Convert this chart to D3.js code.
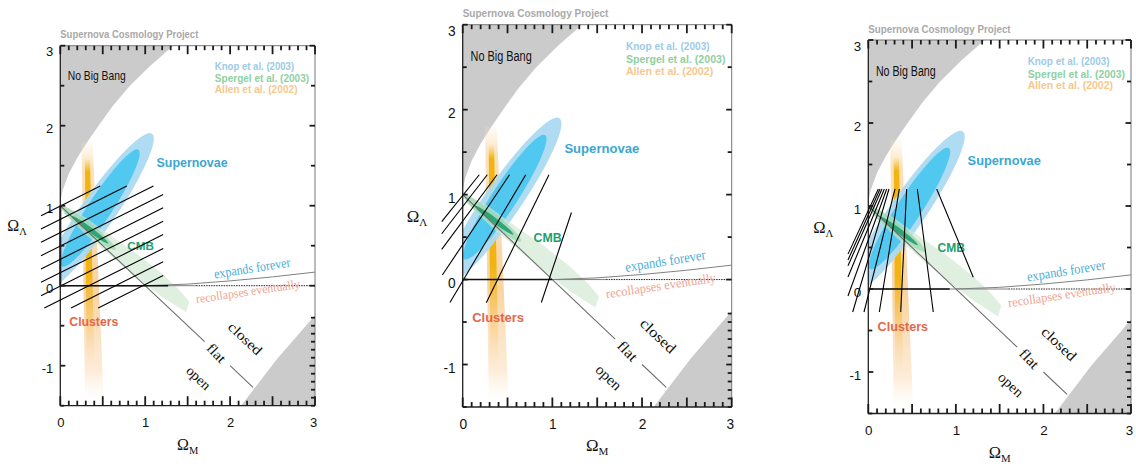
<!DOCTYPE html>
<html>
<head>
<meta charset="utf-8">
<script src="https://d3js.org/d3.v7.min.js"></script>
<style>
  body { margin: 0; background: #fff; }
  svg { display: block; }
  text { font-family: "Liberation Sans", Arial, sans-serif; }
  text.serif { font-family: "Liberation Serif", "Times New Roman", serif; }
</style>
</head>
<body>
<div id="chart"></div>
<script>
// ---- data (Omega_M, Omega_Lambda) ----
const xTicks = [0, 1, 2, 3];
const yTicks = [-1, 0, 1, 2, 3];

// no big bang boundary (upper left grey region)
const noBigBang = [[0, 1.05], [0.03, 1.2], [0.1, 1.4], [0.2, 1.6], [0.32, 1.8], [0.45, 2.0],
                   [0.62, 2.25], [0.82, 2.5], [1.06, 2.75], [1.33, 3.0]];
// lower right grey corner
const cornerRegion = [[2.13, -1.5], [2.55, -0.92], [3, -0.37], [3, -1.5]];
// expands forever / recollapses boundary
const expandLine = [[1, 0], [1.5, 0.02], [2, 0.06], [2.5, 0.11], [3, 0.17]];
const flatLineA = [[0, 1], [1.70, -0.70]];
const flatLineB = [[2.0, -1.0], [2.27, -1.27]];

// supernovae confidence ellipses: centre, tip of major axis, minor/major ratio
const snOuter = [[0.44, 0.92], [1.08, 1.90], 0.18];
const snInner = [[0.47, 0.97], [0.92, 1.70], 0.17];

// CMB band and contours
const cmbBand = [[0.05, 1.0], [0.3, 0.85], [0.6, 0.62], [0.9, 0.4], [1.2, 0.15], [1.4, -0.05], [1.52, -0.2],
                 [1.48, -0.33], [1.2, -0.14], [0.9, 0.1], [0.6, 0.37], [0.3, 0.64], [0.05, 0.9]];
const cmbMid = [[0.33, 0.72], [0.65, 0.45], 0.15];
const cmbCore = [[0.35, 0.70], [0.565, 0.53], 0.11];

// clusters band
const clustersOuter = [[0.25, 1.8], [0.38, 1.8], [0.51, -1.38], [0.29, -1.38]];
const clustersCore = [[0.29, 1.58], [0.35, 1.58], [0.40, -1.0], [0.31, -1.0]];

// hatching of each panel: [x1, y1, x2, y2]
const hatchA = [
  [-0.227, 0.875, 0.471, 1.246], [-0.227, 0.709, 0.783, 1.246], [-0.227, 0.543, 1.097, 1.246],
  [-0.227, 0.375, 1.212, 1.140], [-0.227, 0.209, 1.212, 0.974], [-0.227, 0.043, 1.212, 0.806],
  [-0.227, -0.125, 1.212, 0.640], [-0.188, -0.279, 1.212, 0.465], [0.126, -0.279, 1.212, 0.299],
  [0.447, -0.279, 1.212, 0.128]
];
const hatchB = [
  [0.185, 1.234, -0.234, 0.683], [0.274, 1.234, -0.234, 0.539], [0.383, 1.234, -0.234, 0.355],
  [0.522, 1.234, -0.227, 0.054], [0.703, 1.234, -0.142, -0.27], [0.962, 1.234, 0.263, -0.274],
  [1.213, 0.79, 0.877, -0.27]
];
const hatchC = [
  [0.114, 1.205, -0.232, 0.42], [0.134, 1.205, -0.232, 0.35], [0.156, 1.205, -0.232, 0.28],
  [0.183, 1.205, -0.232, 0.145], [0.21, 1.205, -0.232, -0.085], [0.236, 1.205, -0.178, -0.277],
  [0.305, 1.205, -0.049, -0.277], [0.354, 1.205, 0.126, -0.277], [0.438, 1.205, 0.37, -0.277],
  [0.56, 1.205, 0.742, -0.277], [0.781, 1.205, 1.199, 0.141]
];
const boxEnds = [1.27, 1.0, 0.93];

const legendNames = ["Knop et al. (2003)", "Spergel et al.  (2003)", "Allen et al.  (2002)"];
const legendColors = ["#9ccbe8", "#8fd0a2", "#f6c88e"];

// ---- layout ----
const W = 1136, H = 468;
const panels = [
  {left: 60.3, right: 315, top: 45.7, bottom: 405.7, hatch: hatchA, axLeft: 53},
  {left: 462.7, right: 731.7, top: 24.7, bottom: 407, hatch: hatchB, axLeft: 56},
  {left: 868.3, right: 1131, top: 40, bottom: 413.5, hatch: hatchC, axLeft: 55}
];

const svg = d3.select("#chart").append("svg").attr("width", W).attr("height", H);
const defs = svg.append("defs");

const gOuter = defs.append("linearGradient").attr("id", "clOuter")
  .attr("x1", 0).attr("y1", 0).attr("x2", 0).attr("y2", 1);
[[0, "#fde6c6", 0.15], [0.1, "#f9d49c", 0.7], [0.6, "#f8c98c", 0.8], [0.9, "#fad4a8", 0.45], [1, "#fde2c4", 0.05]]
  .forEach(s => gOuter.append("stop").attr("offset", s[0]).attr("stop-color", s[1]).attr("stop-opacity", s[2]));
const gCore = defs.append("linearGradient").attr("id", "clCore")
  .attr("x1", 0).attr("y1", 0).attr("x2", 0).attr("y2", 1);
[[0, "#f4c23a", 0.1], [0.06, "#f0b000", 0.9], [0.55, "#f0b000", 0.9], [0.85, "#f5c25a", 0.3], [1, "#f8d090", 0]]
  .forEach(s => gCore.append("stop").attr("offset", s[0]).attr("stop-color", s[1]).attr("stop-opacity", s[2]));

function ellipse(g, x, y, e, fill, op) {
  const cx = x(e[0][0]), cy = y(e[0][1]), tx = x(e[1][0]), ty = y(e[1][1]);
  const a = Math.hypot(tx - cx, ty - cy);
  const ang = Math.atan2(ty - cy, tx - cx) * 180 / Math.PI;
  g.append("ellipse")
    .attr("cx", cx).attr("cy", cy).attr("rx", a).attr("ry", a * e[2])
    .attr("transform", `rotate(${ang},${cx},${cy})`)
    .attr("fill", fill).attr("fill-opacity", op);
}

panels.forEach((p, i) => {
  const k = (p.right - p.left) / 254.7;
  const x = d3.scaleLinear().domain([0, 3]).range([p.left, p.right]);
  const y = d3.scaleLinear().domain([-1.5, 3]).range([p.bottom, p.top]);
  const line = d3.line().x(d => x(d[0])).y(d => y(d[1]));
  const g = svg.append("g");

  defs.append("clipPath").attr("id", "clip" + i)
    .append("rect").attr("x", p.left).attr("y", p.top)
    .attr("width", p.right - p.left).attr("height", p.bottom - p.top);

  const plot = g.append("g").attr("clip-path", `url(#clip${i})`);

  // grey forbidden regions
  plot.append("path").attr("d", line([[0, 3], ...noBigBang, [0, 3]])).attr("fill", "#cbcbcb");
  plot.append("path").attr("d", line(cornerRegion) + "Z").attr("fill", "#cbcbcb");

  // clusters
  plot.append("path").attr("d", line(clustersOuter) + "Z").attr("fill", "url(#clOuter)");
  plot.append("path").attr("d", line(clustersCore) + "Z").attr("fill", "url(#clCore)");

  // supernovae
  ellipse(plot, x, y, snOuter, "#acdaf2", 0.95);
  ellipse(plot, x, y, snInner, "#4cc6ee", 0.95);

  // CMB
  plot.append("path").attr("d", line(cmbBand) + "Z").attr("fill", "#cfe8cf").attr("fill-opacity", 0.65);
  ellipse(plot, x, y, cmbMid, "#9ad6b0", 0.7);
  ellipse(plot, x, y, cmbCore, "#22a06e", 0.9);

  // boundary lines
  plot.append("line").attr("x1", x(0)).attr("x2", x(1.6)).attr("y1", y(0)).attr("y2", y(0))
    .attr("stroke", "#808080").attr("stroke-width", 1);
  plot.append("line").attr("x1", x(1.6)).attr("x2", x(3)).attr("y1", y(0)).attr("y2", y(0))
    .attr("stroke", "#222").attr("stroke-width", 1).attr("stroke-dasharray", "1.5,1");
  plot.append("path").attr("d", line(expandLine)).attr("fill", "none").attr("stroke", "#808080").attr("stroke-width", 1);
  plot.append("path").attr("d", line(flatLineA)).attr("fill", "none").attr("stroke", "#6e6e6e").attr("stroke-width", 1.1);
  plot.append("path").attr("d", line(flatLineB)).attr("fill", "none").attr("stroke", "#6e6e6e").attr("stroke-width", 1.1);

  // box bottom
  g.append("line").attr("x1", x(0)).attr("x2", x(boxEnds[i])).attr("y1", y(0)).attr("y2", y(0))
    .attr("stroke", "#111").attr("stroke-width", 1.6);
  if (i === 0) {
    g.append("line").attr("x1", x(0)).attr("x2", x(0)).attr("y1", y(0)).attr("y2", y(1))
      .attr("stroke", "#111").attr("stroke-width", 2);
  }

  // frame
  g.append("line").attr("x1", p.left).attr("x2", p.right).attr("y1", p.top).attr("y2", p.top).attr("stroke", "#777");
  g.append("line").attr("x1", p.right).attr("x2", p.right).attr("y1", p.top).attr("y2", p.bottom).attr("stroke", "#777");
  g.append("line").attr("x1", p.left).attr("x2", p.left).attr("y1", p.top).attr("y2", p.bottom).attr("stroke", "#222").attr("stroke-width", 1.3);
  g.append("line").attr("x1", p.left).attr("x2", p.right).attr("y1", p.bottom).attr("y2", p.bottom).attr("stroke", "#222").attr("stroke-width", 1.3);

  // tick labels through d3 axes (tick lines drawn separately below)
  const fmt = d => String(d);
  const bx = g.append("g").attr("transform", `translate(0,${p.bottom})`)
    .call(d3.axisBottom(x).tickValues(xTicks).tickFormat(fmt).tickSize(0).tickPadding(12));
  bx.select(".domain").remove();
  bx.selectAll("text").attr("font-size", 13 * k).attr("font-family", "Liberation Sans, Arial, sans-serif").attr("fill", "#111")
    .attr("dx", d => d === 3 ? -2 : 0);
  const ly = g.append("g").attr("transform", `translate(${p.left},0)`)
    .call(d3.axisLeft(y).tickValues(yTicks).tickFormat(fmt).tickSize(0).tickPadding(7));
  ly.select(".domain").remove();
  ly.selectAll("text").attr("font-size", 13 * k).attr("font-family", "Liberation Sans, Arial, sans-serif")
    .attr("fill", "#111").attr("dy", d => d === 3 ? "0.75em" : "0.55em");

  // labels
  const txt = (s, dx, dy, opts) => {
    const t = g.append("text").attr("x", x(dx)).attr("y", y(dy)).text(s)
      .attr("font-size", opts.size * k).attr("fill", opts.color || "#111");
    if (opts.bold) t.attr("font-weight", "bold");
    if (opts.serif) t.attr("class", "serif");
    if (opts.len) t.attr("textLength", opts.len * k).attr("lengthAdjust", "spacingAndGlyphs");
    if (opts.anchor) t.attr("text-anchor", opts.anchor);
    if (opts.rot !== undefined) t.attr("transform", `rotate(${opts.rot},${x(dx)},${y(dy)})`);
    if (opts.dyEm) t.attr("dy", opts.dyEm);
    return t;
  };

  g.append("text").attr("x", p.left).attr("y", p.top - 7.5)
    .text("Supernova Cosmology Project").attr("font-size", 10.5 * k).attr("font-weight", "bold")
    .attr("fill", "#a9a9a9").attr("textLength", 138 * k).attr("lengthAdjust", "spacingAndGlyphs");

  txt("No Big Bang", 0.087, 2.57, {size: 13.5, len: 58});
  legendNames.forEach((n, j) => {
    txt(n, 1.82, [2.70, 2.546, 2.41][j], {size: 10, bold: true, color: legendColors[j], len: [79.3, 94.3, 82.7][j]});
  });
  txt("Supernovae", 1.134, 1.49, {size: 12.5, bold: true, color: "#3aa7d2", len: 71});
  txt("CMB", 0.79, 0.446, {size: 11.5, bold: true, color: "#22a070", len: 26.6});
  txt("Clusters", 0.106, -0.504, {size: 12, bold: true, color: "#e2674a", len: 49});
  txt("expands forever", 1.82, 0.09, {size: 13.5, serif: true, color: "#4aaed8", len: 77, rot: -9});
  txt("recollapses eventually", 1.605, -0.22, {size: 12.5, serif: true, color: "#f0a493", len: 105, rot: -8.5});

  const flatAng = Math.atan2(y(-1) - y(0), x(1) - x(0)) * 180 / Math.PI;
  txt("closed", 2.18, -0.66, {size: 14, serif: true, len: 41, anchor: "middle", rot: flatAng, dyEm: "0.35em"});
  txt("flat", 1.84, -0.84, {size: 14, serif: true, len: 21, anchor: "middle", rot: flatAng + 3, dyEm: "0.35em"});
  txt("open", 1.63, -1.15, {size: 14, serif: true, len: 28, anchor: "middle", rot: flatAng, dyEm: "0.35em"});

  // axis titles
  const oL = g.append("text").attr("class", "serif").attr("x", p.left - p.axLeft).attr("y", y(0.68))
    .attr("font-size", 16 * k).attr("fill", "#111");
  oL.append("tspan").text("Ω");
  oL.append("tspan").text("Λ").attr("font-size", 10.5 * k).attr("dy", 4 * k);
  const oM = g.append("text").attr("class", "serif").attr("x", x(1.5)).attr("y", p.bottom + 44)
    .attr("text-anchor", "middle").attr("font-size", 16 * k).attr("fill", "#111");
  oM.append("tspan").text("Ω");
  oM.append("tspan").text("M").attr("font-size", 10.5 * k).attr("dy", 4 * k);

  // hatching
  g.append("g").selectAll("line").data(p.hatch).join("line")
    .attr("x1", d => x(d[0])).attr("y1", d => y(d[1]))
    .attr("x2", d => x(d[2])).attr("y2", d => y(d[3]))
    .attr("stroke", "#000").attr("stroke-width", 1.1);

  // inward tick marks: top/bottom every 0.1 (longer at 0.5), left every 0.5, right every 0.5 plus 0.1 low down
  const minorX = d3.range(0, 3.001, 0.1).map(v => +v.toFixed(1));
  const isHalf = v => Math.abs(v * 2 - Math.round(v * 2)) < 1e-6;
  const halfY = d3.range(-1.5, 3.001, 0.5);
  const rightY = halfY.concat(d3.range(-1.4, -0.35, 0.1).map(v => +v.toFixed(1)).filter(v => !isHalf(v)));
  const tg = g.append("g");
  const tick = (cls, data, f) => tg.selectAll("line." + cls).data(data).join("line").attr("class", cls)
    .each(function (d) {
      const c = f(d);
      d3.select(this).attr("x1", c[0]).attr("y1", c[1]).attr("x2", c[2]).attr("y2", c[3]);
    })
    .style("stroke", "#1a1a1a").style("stroke-width", "1.8px");
  tick("t", minorX, d => [x(d), p.top, x(d), p.top + (isHalf(d) ? 8.5 : 4.5)]);
  tick("b", minorX, d => [x(d), p.bottom, x(d), p.bottom - (isHalf(d) ? 9.5 : 5)]);
  tick("l", halfY, d => [p.left, y(d), p.left + (yTicks.includes(d) ? 5 : 4), y(d)]);
  tick("r", rightY, d => [p.right, y(d), p.right - (yTicks.includes(d) ? 5.5 : 4), y(d)]);
});
</script>
</body>
</html>
